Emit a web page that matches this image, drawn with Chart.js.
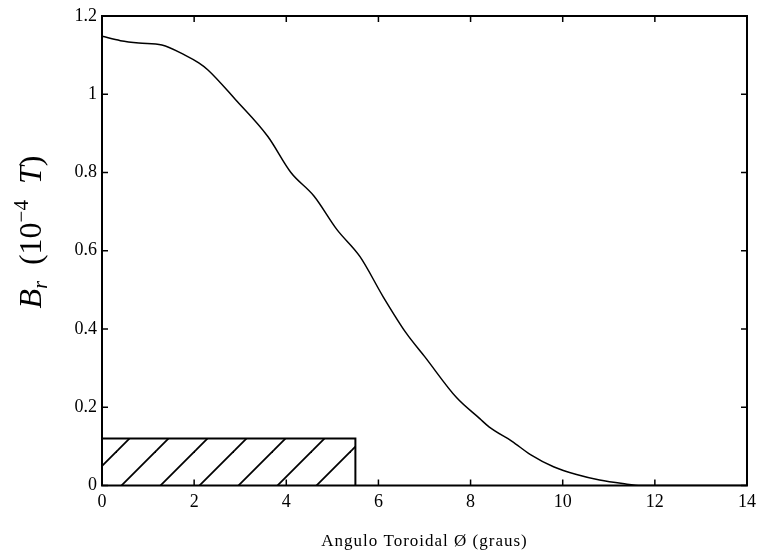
<!DOCTYPE html>
<html>
<head>
<meta charset="utf-8">
<script src="https://cdn.jsdelivr.net/npm/chart.js@4/dist/chart.umd.min.js"></script>
<style>
  html, body { margin: 0; padding: 0; background: #fff; }
  #c { display: block; }
</style>
</head>
<body>
<canvas id="c" width="762" height="556"></canvas>
<script>
// Radial field B_r versus toroidal angle (degrees)
const angle = [0, 0.4, 0.8, 1.3, 1.8, 2.1, 2.3, 2.9, 3.6, 4.1, 4.6, 5.1, 5.6, 6.1, 6.6, 7.0, 7.7, 8.2, 8.4, 8.9, 9.3, 9.8, 10.3, 10.8, 11.3, 11.7, 12, 14];
const fieldBr = [1.148, 1.137, 1.131, 1.126, 1.10, 1.08, 1.062, 0.986, 0.892, 0.80, 0.74, 0.654, 0.585, 0.483, 0.39, 0.33, 0.224, 0.171, 0.150, 0.113, 0.079, 0.048, 0.028, 0.014, 0.005, 0, 0, 0];

// Shaded region (coil extent)
const regionAngle = [0, 5.5, 5.5];
const regionHeight = [0.12, 0.12, 0];

// Axis ticks
const xTickValues = [0, 2, 4, 6, 8, 10, 12, 14];
const xTickLabels = ['0', '2', '4', '6', '8', '10', '12', '14'];
const yTickValues = [0, 0.2, 0.4, 0.6, 0.8, 1, 1.2];
const yTickLabels = ['0', '0.2', '0.4', '0.6', '0.8', '1', '1.2'];

const xTitle = 'Angulo Toroidal Ø (graus)';

const SERIF = '"Liberation Serif", "Times New Roman", serif';

function hatchPattern() {
  const p = 39;
  const c = document.createElement('canvas');
  c.width = p; c.height = p;
  const g = c.getContext('2d');
  g.strokeStyle = '#000';
  g.lineWidth = 1.8;
  for (const k of [22 - p, 22, 22 + p, 22 + 2 * p]) {
    g.beginPath();
    g.moveTo(k + 5, -5);
    g.lineTo(k - p - 5, p + 5);
    g.stroke();
  }
  return document.getElementById('c').getContext('2d').createPattern(c, 'repeat');
}

const framePlugin = {
  id: 'frame',
  afterDatasetsDraw(chart) {
    const { ctx, chartArea: a, scales: { x, y } } = chart;
    ctx.save();
    ctx.strokeStyle = '#000';
    ctx.lineWidth = 2;
    ctx.strokeRect(a.left, a.top, a.right - a.left, a.bottom - a.top);
    ctx.lineWidth = 1.5;
    const seg = (x1, y1, x2, y2) => { ctx.beginPath(); ctx.moveTo(x1, y1); ctx.lineTo(x2, y2); ctx.stroke(); };
    xTickValues.forEach(v => {
      const px = x.getPixelForValue(v);
      seg(px, a.bottom, px, a.bottom - 6);
      seg(px, a.top, px, a.top + 6);
    });
    yTickValues.forEach(v => {
      const py = y.getPixelForValue(v);
      seg(a.left, py, a.left + 6, py);
      seg(a.right, py, a.right - 6, py);
    });
    ctx.restore();
  },
  afterDraw(chart) {
    const { ctx, chartArea: a } = chart;
    ctx.save();
    ctx.fillStyle = '#000';
    // x axis title
    ctx.font = '17px ' + SERIF;
    ctx.letterSpacing = '1px';
    ctx.textAlign = 'center';
    ctx.textBaseline = 'alphabetic';
    ctx.fillText(xTitle, (a.left + a.right) / 2, 546);
    ctx.letterSpacing = '0px';

    // y axis title: B_r (10^-4 T)
    const parts = [
      { t: 'B', f: 'italic 32px ' + SERIF, dy: 0 },
      { t: 'r', f: 'italic 20px ' + SERIF, dy: 6 },
      { t: '  (10', f: '32px ' + SERIF, dy: 0 },
      { t: '−4', f: '21px ' + SERIF, dy: -13 },
      { t: '  ', f: '32px ' + SERIF, dy: 0 },
      { t: 'T', f: 'italic 32px ' + SERIF, dy: 0 },
      { t: ')', f: '32px ' + SERIF, dy: 0 }
    ];
    let total = 0;
    parts.forEach(p => { ctx.font = p.f; p.w = ctx.measureText(p.t).width; total += p.w; });
    ctx.translate(41, 232);
    ctx.rotate(-Math.PI / 2);
    ctx.textAlign = 'left';
    let cx = -total / 2;
    parts.forEach(p => { ctx.font = p.f; ctx.fillText(p.t, cx, p.dy); cx += p.w; });
    ctx.restore();
  }
};

new Chart(document.getElementById('c'), {
  type: 'line',
  data: {
    datasets: [
      {
        data: angle.map((a, i) => ({ x: a, y: fieldBr[i] })),
        borderColor: '#000',
        borderWidth: 1.5,
        pointRadius: 0,
        cubicInterpolationMode: 'monotone',
        fill: false
      },
      {
        data: regionAngle.map((a, i) => ({ x: a, y: regionHeight[i] })),
        borderColor: '#000',
        borderWidth: 2,
        pointRadius: 0,
        tension: 0,
        fill: 'origin',
        backgroundColor: hatchPattern()
      }
    ]
  },
  options: {
    responsive: false,
    animation: false,
    events: [],
    layout: { padding: { left: 0, right: 13, top: 16, bottom: 0 } },
    plugins: { legend: { display: false }, tooltip: { enabled: false } },
    scales: {
      x: {
        type: 'linear',
        min: 0, max: 14,
        afterFit: s => { s.height = 70.5; },
        afterBuildTicks: s => { s.ticks = xTickValues.map(v => ({ value: v })); },
        grid: { display: false, drawTicks: false },
        border: { display: false },
        ticks: {
          padding: 6,
          color: '#000',
          font: { family: SERIF, size: 18 },
          maxRotation: 0,
          autoSkip: false,
          callback: (v, i) => xTickLabels[i]
        }
      },
      y: {
        type: 'linear',
        min: 0, max: 1.2,
        afterFit: s => { s.width = 102; },
        afterBuildTicks: s => { s.ticks = yTickValues.map(v => ({ value: v })); },
        grid: { display: false, drawTicks: false },
        border: { display: false },
        ticks: {
          padding: 5,
          color: '#000',
          font: { family: SERIF, size: 18 },
          autoSkip: false,
          callback: (v, i) => yTickLabels[i]
        }
      }
    }
  },
  plugins: [framePlugin]
});
</script>
</body>
</html>
